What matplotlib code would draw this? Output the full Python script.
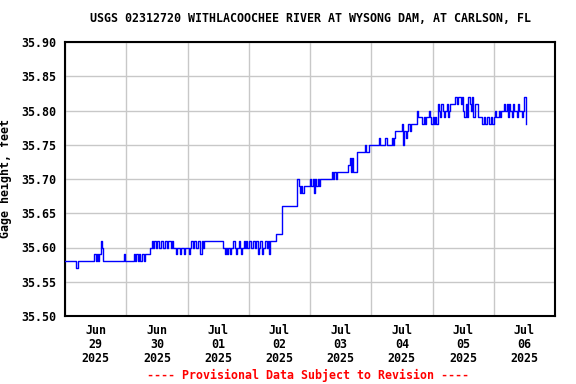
import matplotlib
matplotlib.use('Agg')
import matplotlib.pyplot as plt
import pandas as pd

# gage height, hundredths of a foot above 35.00, every 30 minutes from Jun 29 00:00
jun29 = [58] * 9 + [57] + [58] * 13 + [59, 58, 59, 58, 59, 61, 60, 58] + [58] * 15 + [59, 58]
jun30 = [58] * 6 + [59, 58, 59, 58, 59, 58, 59] + [59, 58, 59, 59] + [59, 59] + \
        [60, 61, 60, 61, 60, 61, 61, 60, 61, 61, 60, 61, 61, 60, 61, 61, 60, 61, 60, 60,
         59, 60, 60, 59, 60, 60, 59, 60, 60]
jul01 = [60, 59, 60, 61, 60, 61, 61, 60, 61, 61, 59, 61, 60, 61, 61, 61] + [61] * 12 + \
        [60, 59, 60, 59, 60, 59, 60, 60, 61, 60, 59, 60, 61, 60, 59, 60, 61, 60, 61, 60]
jul02 = [61, 61, 60, 61, 61, 60, 61] + [59, 60, 61, 59, 60, 60, 61, 60] + \
        [61, 59, 61, 61, 61, 61] + [62] * 5 + [66] * 12 + [70] + \
        [69, 68, 69, 68, 69, 69, 69, 69, 69]
jul03 = [70, 69, 70, 68, 70, 69, 70, 69] + [70] * 9 + [71, 70, 71, 70] + [71] * 9 + \
        [72, 73, 71, 73, 71, 71, 71] + [74] * 6 + [75, 74, 74, 75, 75]
jul04 = [75] * 6 + [76] + [75] * 4 + [76] + [75] * 4 + [76, 75, 76] + [77] * 5 + \
        [78, 75, 77, 76, 77, 78, 77] + [78] * 5 + \
        [80, 79, 79, 79, 78, 79, 78, 79, 79, 80, 79, 78]
jul05 = [79, 78, 79, 78, 81, 80, 79, 81, 80, 79, 80, 81, 79, 80, 81, 81, 81, 81, 82, 81,
         82, 82, 81, 82, 80, 79, 81, 79, 82, 81, 80, 82, 79, 81, 81, 81, 79, 79, 79, 78,
         79, 78, 78, 79, 78, 78, 79, 78]
jul06 = [79, 80, 79, 79, 80, 79, 80, 80, 81, 80, 81, 79, 81, 80, 79, 81, 80, 80, 79, 81,
         80, 80, 79, 80, 82, 78]

yticks = [35.50, 35.55, 35.60, 35.65, 35.70, 35.75, 35.80, 35.85, 35.90]
day_labels = ['Jun\n29\n2025', 'Jun\n30\n2025', 'Jul\n01\n2025', 'Jul\n02\n2025',
              'Jul\n03\n2025', 'Jul\n04\n2025', 'Jul\n05\n2025', 'Jul\n06\n2025']

TITLE = 'USGS 02312720 WITHLACOOCHEE RIVER AT WYSONG DAM, AT CARLSON, FL'
FONT = 'DejaVu Sans Mono'


def create_gage_plot(dates, heights):
    fig = plt.figure(figsize=(5.76, 3.84), dpi=100)
    ax = fig.add_axes([65 / 576, 1 - 316 / 384, 490 / 576, 274 / 384])

    ax.plot(dates, heights, color='#0000ff', lw=1, drawstyle='steps-post', zorder=3)

    start = pd.Timestamp('2025-06-29')
    days = pd.date_range(start, periods=9, freq='D')
    ax.set_xlim(days[0], days[-1])
    ax.set_ylim(35.50, 35.90)

    ax.set_xticks(days)
    ax.set_xticklabels([])
    noons = days[:-1] + pd.Timedelta(hours=12)
    ax.set_xticks(noons, minor=True)
    ax.set_xticklabels(day_labels, minor=True, fontfamily=FONT, fontweight='bold',
                       fontsize=8.4, linespacing=1.1)
    ax.set_yticks(yticks)
    ax.set_yticklabels(['%.2f' % v for v in yticks], fontfamily=FONT,
                       fontweight='bold', fontsize=8.4)
    ax.tick_params(axis='both', which='both', length=0)
    ax.tick_params(axis='y', pad=6.5)
    ax.tick_params(axis='x', which='minor', pad=6)

    ax.grid(True, which='major', color='#c8c8c8', lw=1)
    ax.set_axisbelow(True)
    for s in ax.spines.values():
        s.set_linewidth(1.5)
        s.set_color('black')

    ax.set_ylabel('Gage height, feet', fontfamily=FONT, fontweight='bold', fontsize=8.4)
    ax.yaxis.set_label_coords(-0.108, 0.5)

    fig.text(310 / 576, 1 - 19 / 384, TITLE, ha='center', va='center',
             fontfamily=FONT, fontweight='bold', fontsize=8.4)
    fig.text(308 / 576, 1 - 375 / 384, '---- Provisional Data Subject to Revision ----',
             ha='center', va='center', color='red', fontfamily=FONT,
             fontweight='bold', fontsize=8.4)
    return fig


if __name__ == '__main__':
    raw = jun29 + jun30 + jul01 + jul02 + jul03 + jul04 + jul05 + jul06
    heights = [35 + v / 100 for v in raw]
    dates = pd.date_range('2025-06-29', periods=len(heights), freq='30min')

    fig = create_gage_plot(dates, heights)
    fig.savefig('out.png', dpi=100)
